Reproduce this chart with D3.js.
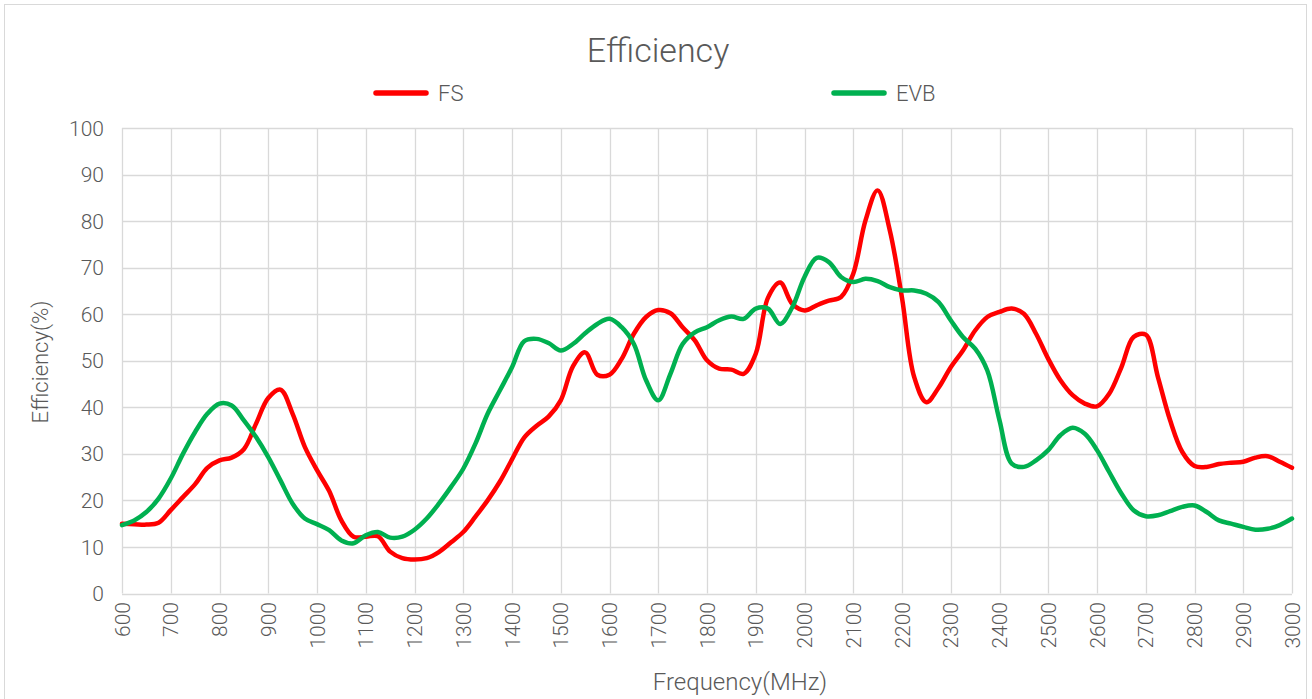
<!DOCTYPE html>
<html><head><meta charset="utf-8">
<script src="https://cdn.jsdelivr.net/npm/d3@7"></script>
<style>
html,body{margin:0;padding:0;background:#fff;}
svg{display:block;font-family:Roboto,"Noto Sans",sans-serif;font-weight:300;}
</style></head>
<body>
<svg id="c" width="1312" height="699"></svg>
<script>
const freq = [600,625,650,675,700,725,750,775,800,825,850,875,900,925,950,975,1000,1025,1050,1075,1100,1125,1150,1175,1200,1225,1250,1275,1300,1325,1350,1375,1400,1425,1450,1475,1500,1525,1550,1575,1600,1625,1650,1675,1700,1725,1750,1775,1800,1825,1850,1875,1900,1925,1950,1975,2000,2025,2050,2075,2100,2125,2150,2175,2200,2225,2250,2275,2300,2325,2350,2375,2400,2425,2450,2475,2500,2525,2550,2575,2600,2625,2650,2675,2700,2725,2750,2775,2800,2825,2850,2875,2900,2925,2950,2975,3000];
const fs = [15.0,14.9,14.8,15.2,17.9,20.7,23.5,27.0,28.6,29.2,31.0,36.5,42.0,43.8,38.6,31.5,26.5,22.0,15.7,12.2,12.2,12.3,9.0,7.6,7.3,7.6,8.9,11.0,13.2,16.5,20.0,24.0,28.8,33.5,36.0,38.0,41.5,48.8,51.8,47.0,47.0,50.4,55.8,59.4,60.9,60.2,57.2,54.4,50.1,48.3,48.1,47.2,51.5,63.5,66.8,62.2,60.8,61.9,62.9,63.7,68.7,80.1,86.6,78.0,63.5,46.5,41.1,44.2,48.6,52.2,56.5,59.4,60.5,61.2,60.1,55.8,50.4,45.8,42.6,40.8,40.2,42.9,48.6,55.1,55.6,46.5,37.2,30.4,27.4,27.2,27.8,28.1,28.3,29.2,29.5,28.3,27.0];
const evb = [14.7,15.7,17.5,20.4,24.7,30.0,34.7,38.6,40.8,40.4,37.2,33.6,29.3,24.3,19.3,16.1,14.9,13.6,11.4,10.8,12.5,13.2,12.0,12.2,13.7,16.1,19.3,22.9,26.8,32.2,38.6,43.6,48.6,54.2,54.7,53.8,52.2,53.6,55.9,57.9,59.0,57.2,53.6,45.8,41.5,47.2,53.6,56.1,57.2,58.7,59.5,59.0,61.2,61.2,57.9,61.5,68.0,72.1,71.2,68.0,66.9,67.6,67.1,65.8,65.1,65.1,64.4,62.6,58.7,55.1,52.6,47.9,37.2,27.9,27.2,28.6,30.8,34.0,35.6,34.3,30.8,26.1,21.5,17.9,16.6,16.8,17.7,18.6,18.9,17.5,15.7,15.0,14.3,13.7,13.9,14.7,16.1];
const xTicks = [600,700,800,900,1000,1100,1200,1300,1400,1500,1600,1700,1800,1900,2000,2100,2200,2300,2400,2500,2600,2700,2800,2900,3000];
const yTicks = [0,10,20,30,40,50,60,70,80,90,100];
const seriesNames = ["FS","EVB"];
const seriesColors = ["#FF0000","#00B050"];

const svg = d3.select("#c");
const textColor = "#595959", gridColor = "#D9D9D9";
const L = 122, R = 1292, T = 128, B = 593.5;
const x = d3.scaleLinear().domain([600,3000]).range([L,R]);
const y = d3.scaleLinear().domain([0,100]).range([B,T]);

// outer border
svg.append("rect").attr("x",4.5).attr("y",4.5).attr("width",1302).attr("height",710)
  .attr("fill","none").attr("stroke",gridColor).attr("stroke-width",1);

// gridlines
svg.append("g").selectAll("line").data(yTicks).join("line")
  .attr("x1",L).attr("x2",R).attr("y1",d=>Math.round(y(d))+0.5).attr("y2",d=>Math.round(y(d))+0.5)
  .attr("stroke",gridColor).attr("stroke-width",1.3);
svg.append("g").selectAll("line").data(xTicks).join("line")
  .attr("y1",T).attr("y2",B).attr("x1",d=>Math.round(x(d))+0.5).attr("x2",d=>Math.round(x(d))+0.5)
  .attr("stroke",gridColor).attr("stroke-width",1.3);

// y tick labels
svg.append("g").selectAll("text").data(yTicks).join("text")
  .attr("x",104).attr("y",d=>y(d)).attr("dy","0.36em").attr("text-anchor","end")
  .attr("fill",textColor).attr("font-size",21).text(d=>d);

// x tick labels (rotated)
svg.append("g").selectAll("text").data(xTicks).join("text")
  .attr("transform",d=>`translate(${x(d)},602) rotate(-90)`)
  .attr("text-anchor","end").attr("dy","0.36em")
  .attr("fill",textColor).attr("font-size",21).text(d=>d);

// lines
const line = d3.line().x(d=>x(d[0])).y(d=>y(d[1])).curve(d3.curveCatmullRom.alpha(0.5));
[fs,evb].forEach((s,i)=>{
  svg.append("path").datum(freq.map((f,j)=>[f,s[j]]))
    .attr("d",line).attr("fill","none").attr("stroke",seriesColors[i])
    .attr("stroke-width",4.5).attr("stroke-linejoin","round").attr("stroke-linecap","round");
});

// title
svg.append("text").attr("x",658).attr("y",62).attr("text-anchor","middle")
  .attr("fill",textColor).attr("font-size",34).text("Efficiency");

// legend
const legX = [374,832];
seriesNames.forEach((n,i)=>{
  svg.append("line").attr("x1",legX[i]+2).attr("x2",legX[i]+52).attr("y1",93).attr("y2",93)
    .attr("stroke",seriesColors[i]).attr("stroke-width",5.5).attr("stroke-linecap","round");
  svg.append("text").attr("x",legX[i]+64).attr("y",93).attr("dy","0.36em")
    .attr("fill",textColor).attr("font-size",22).text(n);
});

// axis titles
svg.append("text").attr("x",740).attr("y",690).attr("text-anchor","middle")
  .attr("fill",textColor).attr("font-size",24).text("Frequency(MHz)");
svg.append("text").attr("transform","translate(48,362) rotate(-90)").attr("text-anchor","middle")
  .attr("fill",textColor).attr("font-size",22).text("Efficiency(%)");
</script>
</body></html>
